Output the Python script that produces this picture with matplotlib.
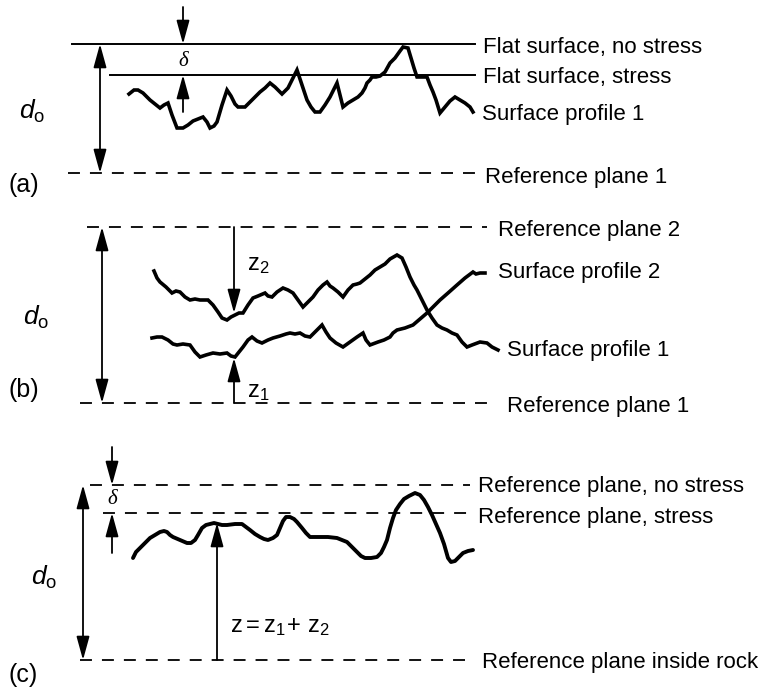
import numpy as np
import matplotlib
matplotlib.use('Agg')
import matplotlib.pyplot as plt

plt.rcParams['font.family'] = ['Liberation Sans', 'DejaVu Sans']
plt.rcParams['mathtext.fontset'] = 'custom'
plt.rcParams['mathtext.rm'] = 'Liberation Sans'
plt.rcParams['mathtext.it'] = 'Liberation Sans:italic'
plt.rcParams['lines.scale_dashes'] = False

# surface profiles, picture coordinates (x right, y down)
profile_a = [(129,94),(134,90),(138,90),(143,93),(150,100),(155,104),(160,108),(164,105),(168,103),
             (172,115),(177,128),(183,128),(188,125),(193,121),(198,119),(203,117),(207,122),(210,128),
             (214,126),(217,122),(222,105),(227,90),(231,96),(235,104),(238,107),(245,107),(250,102),
             (255,97),(260,92),(265,88),(270,83),(275,87),(282,94),(288,88),(292,80),(297,70),(302,85),
             (307,100),(311,107),(315,112),(320,112),(325,105),(330,97),(334,89),(337,83),(340,95),
             (343,107),(348,103),(353,100),(358,97),(362,93),(365,88),(367,83),(370,80),(372,77),
             (376,77),(380,76),(385,72),(390,63),(395,58),(400,51),(403,47),(408,48),(411,58),(414,68),
             (417,77),(422,77),(427,77),(430,85),(433,92),(436,100),(440,113),(445,107),(450,101),
             (455,97),(460,100),(465,103),(470,107),(473,112)]

profile_b2 = [(154,271),(157,278),(160,282),(166,287),(172,293),(176,291),(180,292),(185,297),(190,300),
              (195,299),(200,300),(208,300),(213,305),(218,312),(222,318),(227,320),(231,317),(235,315),
              (239,313),(243,313),(248,305),(253,298),(258,296),(265,293),(268,296),(272,297),(277,292),
              (283,288),(288,290),(293,293),(298,300),(303,307),(308,302),(313,297),(318,290),(323,285),
              (327,282),(330,286),(333,288),(338,292),(343,297),(348,290),(353,285),(357,284),(360,283),
              (365,279),(370,275),(375,270),(380,267),(385,264),(390,259),(397,255),(402,258),(406,267),
              (410,277),(414,285),(417,290),(422,300),(427,310),(432,318),(437,325),(442,328),(447,330),
              (452,333),(457,335),(462,342),(467,347),(472,345),(480,342),(487,343),(492,347),(498,350)]

profile_b1 = [(152,338),(157,337),(162,337),(168,340),(173,344),(177,345),(183,344),(190,345),(195,352),
              (200,357),(206,355),(213,353),(220,354),(227,353),(231,356),(235,357),(239,352),(243,347),
              (248,340),(252,337),(257,341),(262,343),(268,340),(273,338),(280,336),(286,334),(290,333),
              (295,334),(300,333),(305,336),(310,337),(316,331),(322,325),(326,332),(330,338),(336,343),
              (343,347),(350,342),(357,337),(363,333),(366,340),(370,345),(378,342),(384,340),(390,337),
              (393,333),(397,330),(405,328),(413,325),(420,319),(427,313),(434,306),(440,300),(448,293),
              (457,285),(465,278),(473,272),(476,274),(480,273),(485,273)]

profile_c = [(133,558),(136,552),(140,548),(145,543),(150,538),(155,535),(160,532),(164,531),(167,532),
             (170,535),(173,537),(180,540),(187,543),(191,543),(195,540),(198,535),(202,528),(206,525),
             (210,524),(214,523),(218,524),(222,525),(227,525),(235,524),(242,524),(246,527),(250,530),
             (255,534),(260,537),(264,539),(268,540),(273,538),(277,535),(280,528),(283,521),(286,517),
             (290,517),(294,519),(297,522),(302,528),(306,533),(310,537),(318,537),(328,537),(337,538),
             (342,540),(347,542),(352,547),(357,552),(361,556),(365,558),(371,558),(377,557),(381,553),
             (384,547),(387,540),(390,528),(393,518),(396,510),(400,504),(404,499),(409,496),(415,493),
             (420,495),(424,500),(428,507),(432,515),(436,524),(440,533),(444,544),(448,558),(451,562),
             (455,561),(459,557),(463,553),(468,551),(473,550)]

# horizontal planes: (y, x start, x end, dashed, label, label x, label baseline)
planes = [
    (44, 72, 475, False, 'Flat surface, no stress', 483, 53),
    (75, 110, 475, False, 'Flat surface, stress', 483, 83),
    (173, 68, 475, True, 'Reference plane 1', 485, 183),
    (227, 87, 487, True, 'Reference plane 2', 498, 236),
    (403, 80, 490, True, 'Reference plane 1', 507, 412),
    (485, 90, 470, True, 'Reference plane, no stress', 478, 492),
    (513, 103, 470, True, 'Reference plane, stress', 478, 523),
    (660, 80, 470, True, 'Reference plane inside rock', 482, 668),
]
profile_labels = [('Surface profile 1', 482, 120), ('Surface profile 2', 498, 278),
                  ('Surface profile 1', 507, 356)]
panel_labels = [('(a)', 8, 192), ('(b)', 8, 397), ('(c)', 8, 682)]

fig = plt.figure(figsize=(7.65, 6.93), dpi=100)
ax = fig.add_axes([0, 0, 1, 1])
ax.set_xlim(0, 765)
ax.set_ylim(693, 0)
ax.axis('off')

for y, x0, x1, dashed, label, lx, ly in planes:
    if dashed:
        ax.plot([x0, x1], [y, y], color='black', lw=1.3, dashes=(8.6, 7.2))
    else:
        ax.plot([x0, x1], [y, y], color='black', lw=1.4)
    ax.text(lx, ly, label, fontsize=16, va='baseline', ha='left')

for prof in [profile_a, profile_b2, profile_b1]:
    px, py = zip(*prof)
    ax.plot(px, py, color='black', lw=2.6, solid_joinstyle='miter')
px, py = zip(*profile_c)
ax.plot(px, py, color='black', lw=2.8, solid_capstyle='round')

for label, lx, ly in profile_labels:
    ax.text(lx, ly, label, fontsize=16, va='baseline', ha='left')
for label, lx, ly in panel_labels:
    ax.text(lx, ly, label, fontsize=18, va='baseline', ha='left')


def arrow(x, y0, y1, both=False):
    style = '<|-|>' if both else '-|>'
    ax.annotate('', xy=(x, y1), xytext=(x, y0),
                arrowprops=dict(arrowstyle=style + ',head_length=1.2,head_width=0.33',
                                mutation_scale=12, lw=1.3, color='black',
                                shrinkA=0, shrinkB=0))


# (a)
arrow(183, 7, 44)
arrow(183, 112, 75)
arrow(100, 44, 173, both=True)
ax.text(183, 62, 'δ', fontsize=15, family='Liberation Serif', style='italic',
        ha='center', va='center')
ax.text(32, 111, r'$d_\mathrm{o}$', fontsize=19, ha='center', va='center')

# (b)
arrow(102, 227, 403, both=True)
arrow(234, 227, 313)
arrow(234, 403, 358)
ax.text(247, 265, r'$\mathrm{z}_2$', fontsize=17, ha='left', va='center')
ax.text(247, 392, r'$\mathrm{z}_1$', fontsize=17, ha='left', va='center')
ax.text(36, 317, r'$d_\mathrm{o}$', fontsize=19, ha='center', va='center')

# (c)
arrow(112, 447, 485)
arrow(112, 553, 513)
arrow(83, 485, 660, both=True)
arrow(217, 660, 523)
ax.text(112, 499, 'δ', fontsize=15, family='Liberation Serif', style='italic',
        ha='center', va='center')
ax.text(44, 577, r'$d_\mathrm{o}$', fontsize=19, ha='center', va='center')
ax.text(230, 627, r'$\mathrm{z} = \mathrm{z}_1\!+\,\mathrm{z}_2$', fontsize=17,
        ha='left', va='center')

fig.savefig('out.png', dpi=100, facecolor='white')
